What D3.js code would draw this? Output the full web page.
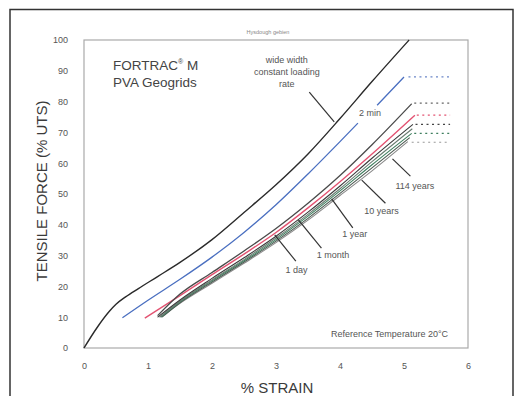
<!DOCTYPE html>
<html>
<head>
<meta charset="utf-8">
<script src="https://cdn.jsdelivr.net/npm/d3@7"></script>
<style>
  body { margin: 0; background: #fff; }
  svg { display: block; font-family: "Liberation Sans", Arial, sans-serif; }
</style>
</head>
<body>
<svg width="514" height="396"></svg>
<script>
// Axis ticks
const strainTicks = [0, 1, 2, 3, 4, 5, 6];
const forceTicks = [0, 10, 20, 30, 40, 50, 60, 70, 80, 90, 100];

// Curves as [strain %, force % UTS]
const wideWidth = [[0, 0], [0.2, 6.5], [0.4, 12], [0.5, 14.2], [0.65, 16.6], [0.85, 19.3], [1.15, 23.2], [1.5, 27.8],
  [2, 35.2], [2.5, 44], [3, 53], [3.5, 63], [4, 74.5], [4.5, 86.5], [5.08, 100]];
const twoMin = [[0.6, 9.8], [1, 15.5], [1.5, 22.3], [2, 29.5], [2.5, 37.5], [3, 46.5], [3.5, 56.5], [4, 67], [4.28, 73],
  [4.43, null], [4.58, 78.8], [5, 88]];
const creepTop = [[1.15, 10.5], [1.5, 17.5], [2, 24.5], [2.5, 31.5], [3, 38.8], [3.5, 47], [4, 56], [4.5, 66], [5.12, 79.3]];
const creepRed = [[0.95, 9.7], [1.5, 17], [2, 23.8], [2.5, 30.5], [3, 37.5], [3.5, 45.5], [4, 54], [4.5, 63], [5.17, 75.6]];
const creepDark = [[1.15, 10], [1.5, 15.6], [2, 22.6], [2.5, 29.3], [3, 36.3], [3.5, 44.1], [4, 52.6], [4.5, 61.6], [5.14, 72.6]];
const creepMid = [[1.18, 10], [1.5, 15.2], [2, 22.1], [2.5, 28.7], [3, 35.7], [3.5, 43.4], [4, 51.7], [4.5, 60.5], [5.13, 71.2]];
const creepGreen = [[1.2, 10], [1.5, 15], [2, 21.8], [2.5, 28.3], [3, 35.2], [3.5, 42.8], [4, 51], [4.5, 59.5], [5.12, 69.7]];
const creepDeep = [[1.22, 10], [1.5, 14.7], [2, 21.4], [2.5, 27.9], [3, 34.7], [3.5, 42.1], [4, 50.2], [4.5, 58.5], [5.09, 68.3]];
const creepGray = [[1.2, 10], [1.5, 14.5], [2, 21], [2.5, 27.5], [3, 34.2], [3.5, 41.5], [4, 49.5], [4.5, 57.5], [5.06, 67]];

// Dotted continuation levels [from strain, to strain, force]
const plateaus = [[5.07, 5.72, 88], [5.16, 5.72, 79.5], [5.2, 5.72, 75.6], [5.18, 5.72, 72.6], [5.16, 5.72, 69.7], [5.12, 5.72, 66.8]];

// Leader lines [x1, y1, x2, y2] and labels [x, y, text]
const leaders = [[3.52, 83.1, 3.91, 73.4], [2.98, 36.7, 3.31, 28.2], [3.35, 41.6, 3.71, 32.4], [3.87, 48.4, 4.2, 39.0],
  [4.34, 54.5, 4.71, 47.0], [4.82, 61.4, 5.1, 55.8]];
const labels = [[3.32, 25.3, "1 day"], [3.89, 30.2, "1 month"], [4.23, 36.9, "1 year"], [4.65, 44.6, "10 years"],
  [5.17, 52.6, "114 years"], [4.47, 76.3, "2 min"]];
const wideLabel = ["wide width", "constant loading", "rate"];

const svg = d3.select("svg");

// outer frame
svg.append("path")
  .attr("d", "M10,400V9.5H513V400")
  .attr("fill", "none")
  .attr("stroke", "#333")
  .attr("stroke-width", 1.5);

const x = d3.scaleLinear().domain([0, 6]).range([84, 468]);
const y = d3.scaleLinear().domain([0, 100]).range([348, 40]);

// plot box
svg.append("rect")
  .attr("x", x(0)).attr("y", y(100))
  .attr("width", x(6) - x(0)).attr("height", y(0) - y(100))
  .attr("fill", "none")
  .attr("stroke", "#aaa")
  .attr("stroke-width", 1.2);

// Axes
const yAxis = svg.append("g")
  .attr("transform", `translate(${x(0)},0)`)
  .call(d3.axisLeft(y).tickValues(forceTicks).tickFormat(d3.format("d")).tickSize(0).tickPadding(16));
const xAxis = svg.append("g")
  .attr("transform", `translate(0,${y(0)})`)
  .call(d3.axisBottom(x).tickValues(strainTicks).tickFormat(d3.format("d")).tickSize(0).tickPadding(15));
[xAxis, yAxis].forEach(a => {
  a.select(".domain").remove();
  a.selectAll("text")
    .attr("font-family", "Liberation Sans, Arial, sans-serif")
    .attr("font-size", 9)
    .attr("fill", "#555");
});

// Axis labels
svg.append("text")
  .attr("x", 277).attr("y", 393)
  .attr("text-anchor", "middle")
  .attr("font-size", 15)
  .attr("fill", "#3a3a3a")
  .text("% STRAIN");

svg.append("text")
  .attr("transform", "translate(47,191) rotate(-90)")
  .attr("text-anchor", "middle")
  .attr("font-size", 15)
  .attr("fill", "#3a3a3a")
  .text("TENSILE FORCE (% UTS)");

svg.append("text")
  .attr("x", 268).attr("y", 34)
  .attr("text-anchor", "middle")
  .attr("font-size", 5.5)
  .attr("fill", "#888")
  .text("Hysdough gebien");

// Title block
const title = svg.append("text")
  .attr("x", 113).attr("y", 70)
  .attr("font-size", 13.5)
  .attr("fill", "#444");
title.append("tspan").text("FORTRAC");
title.append("tspan").attr("font-size", 7).attr("dy", -6).text("®");
title.append("tspan").attr("dy", 6).text(" M");
svg.append("text")
  .attr("x", 113).attr("y", 87)
  .attr("font-size", 13.5)
  .attr("fill", "#444")
  .text("PVA Geogrids");

svg.append("text")
  .attr("x", 448).attr("y", 337)
  .attr("text-anchor", "end")
  .attr("font-size", 9)
  .attr("fill", "#555")
  .text("Reference Temperature 20°C");

// Curves
const line = d3.line()
  .defined(d => d[1] !== null)
  .x(d => x(d[0]))
  .y(d => y(d[1]))
  .curve(d3.curveMonotoneX);

const series = [
  { data: creepGray, color: "#8a8a8a", w: 1.1 },
  { data: creepDeep, color: "#4d5a52", w: 1.1 },
  { data: creepGreen, color: "#3f7f5f", w: 1.1 },
  { data: creepMid, color: "#6a7d72", w: 1.1 },
  { data: creepDark, color: "#3b3b3b", w: 1.1 },
  { data: creepRed, color: "#e35372", w: 1.4 },
  { data: creepTop, color: "#4a4a4a", w: 1.3 },
  { data: twoMin, color: "#4a6fc0", w: 1.3 },
  { data: wideWidth, color: "#2a2a2a", w: 1.4 }
];

svg.append("g").selectAll("path")
  .data(series)
  .join("path")
  .attr("fill", "none")
  .attr("stroke", d => d.color)
  .attr("stroke-width", d => d.w)
  .attr("d", d => line(d.data));

const plateauColors = ["#6b86c8", "#666", "#e35372", "#444", "#3f7f5f", "#999"];
svg.append("g").selectAll("line")
  .data(plateaus)
  .join("line")
  .attr("x1", d => x(d[0])).attr("x2", d => x(d[1]))
  .attr("y1", d => y(d[2])).attr("y2", d => y(d[2]))
  .attr("stroke", (d, i) => plateauColors[i])
  .attr("stroke-width", 1.2)
  .attr("stroke-dasharray", "2,3.5");

// Leaders and labels
svg.append("g").selectAll("line")
  .data(leaders)
  .join("line")
  .attr("x1", d => x(d[0])).attr("y1", d => y(d[1]))
  .attr("x2", d => x(d[2])).attr("y2", d => y(d[3]))
  .attr("stroke", "#333")
  .attr("stroke-width", 1.2);

svg.append("g").selectAll("text")
  .data(labels)
  .join("text")
  .attr("x", d => x(d[0])).attr("y", d => y(d[1]))
  .attr("dy", "0.35em")
  .attr("text-anchor", "middle")
  .attr("font-size", 9)
  .attr("fill", "#555")
  .text(d => d[2]);

svg.append("g").selectAll("text")
  .data(wideLabel)
  .join("text")
  .attr("x", x(3.17))
  .attr("y", (d, i) => y(93.5) + i * 11.7)
  .attr("dy", "0.35em")
  .attr("text-anchor", "middle")
  .attr("font-size", 9)
  .attr("fill", "#555")
  .text(d => d);
</script>
</body>
</html>
